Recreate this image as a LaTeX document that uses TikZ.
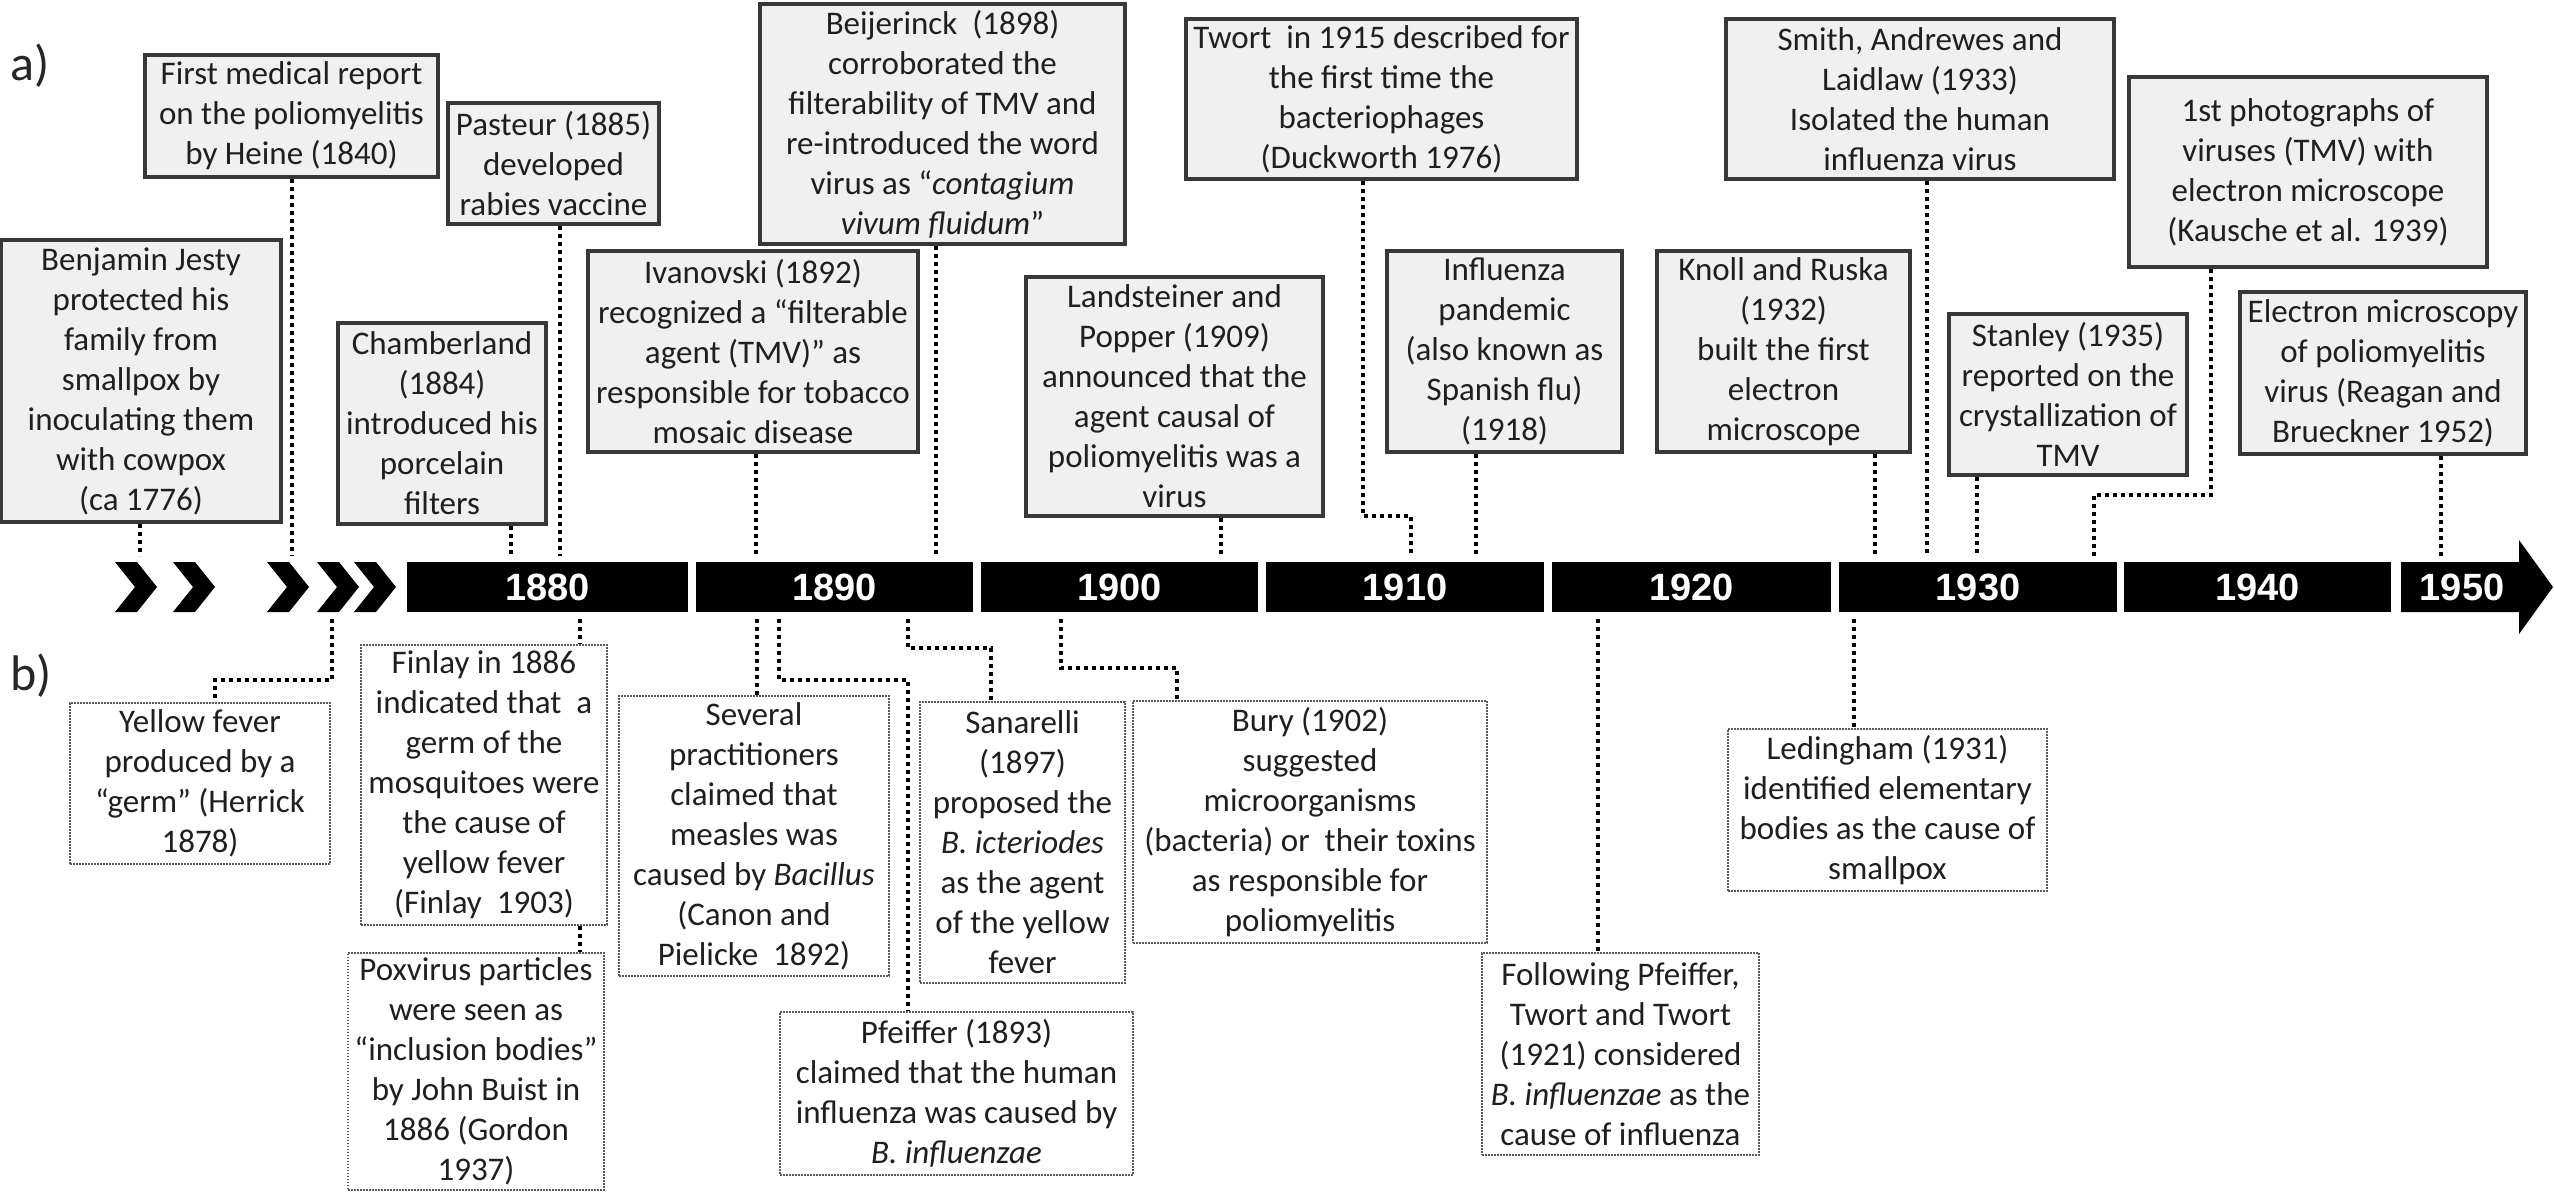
\documentclass[tikz,border=0pt]{standalone}
\usepackage{fontspec}
\setmainfont{Carlito}
\newfontfamily\yearfont{Liberation Sans}
\begin{document}
\begin{tikzpicture}[x=1pt,y=-1pt]
\tikzset{
 topbox/.style={draw=black!78, line width=4pt, fill=black!6, inner sep=0pt, align=center, text=black!88, font=\fontsize{33}{40}\selectfont},
 botbox/.style={draw=black!65, line width=2pt, dash pattern=on 1.6pt off 1.4pt, fill=white, inner sep=0pt, align=center, text=black!88, font=\fontsize{33}{40}\selectfont},
 conn/.style={draw=black, line width=4pt, dash pattern=on 4pt off 4pt},
 seg/.style={fill=black, draw=none, inner sep=0pt, minimum height=50pt, text=white, font=\yearfont\bfseries\fontsize{38}{40}\selectfont},
 yr/.style={text=white, inner sep=0pt, font=\yearfont\bfseries\fontsize{38}{40}\selectfont},
 chev/.style={fill=black},
 lbl/.style={font=\fontsize{50}{55}\selectfont, text=black!85, inner sep=0pt, anchor=base west}
}
\fill[white] (0,0) rectangle (2554,1192);
\useasboundingbox (0,0) rectangle (2554,1192);

% labels
\node[lbl] (la) at (10,80) {a)};
\node[lbl] (lb) at (10,690) {b)};

% timeline chevrons
\foreach \cx in {115,173,267,317,354}{
 \fill[chev] (\cx,562) -- ++(22,0) -- ++(20,25) -- ++(-20,25) -- ++(-22,0) -- ++(20,-25) -- cycle;
}
% segments
\node[seg, minimum width=281pt] (s1880) at (547.5,587) {1880};
\node[seg, minimum width=277pt] (s1890) at (834.5,587) {1890};
\node[seg, minimum width=277pt] (s1900) at (1119.5,587) {1900};
\node[seg, minimum width=278pt] (s1910) at (1405,587) {1910};
\node[seg, minimum width=279pt] (s1920) at (1691.5,587) {1920};
\node[seg, minimum width=278pt] (s1930) at (1978,587) {1930};
\node[seg, minimum width=267pt] (s1940) at (2257.5,587) {1940};
\fill[black] (2401,562) -- (2519,562) -- (2519,540) -- (2553,587) -- (2519,634) -- (2519,612) -- (2401,612) -- cycle;
\node[yr] (s1950) at (2462,587) {1950};

% top boxes
\node[topbox, minimum width=293pt, minimum height=122pt] (med) at (291.5,116) {First medical report\\on the poliomyelitis\\by Heine (1840)};
\node[topbox, minimum width=211pt, minimum height=121pt] (pasteur) at (553.5,163.5) {Pasteur (1885)\\developed\\rabies vaccine};
\node[topbox, minimum width=280pt, minimum height=282pt] (jesty) at (141,381) {Benjamin Jesty\\protected his\\family from\\smallpox by\\inoculating them\\with cowpox\\(ca 1776)};
\node[topbox, minimum width=208pt, minimum height=201pt] (chamb) at (442,423.5) {Chamberland\\(1884)\\introduced his\\porcelain\\filters};
\node[topbox, minimum width=330pt, minimum height=201pt] (ivan) at (753,351.5) {Ivanovski (1892)\\recognized a “filterable\\agent (TMV)” as\\responsible for tobacco\\mosaic disease};
\node[topbox, minimum width=365pt, minimum height=240pt] (beij) at (942.5,124) {Beijerinck\ \ (1898)\\corroborated the\\filterability of TMV and\\re-introduced the word\\virus as “\textit{contagium}\\\textit{vivum fluidum}”};
\node[topbox, minimum width=297pt, minimum height=239pt] (land) at (1174.5,396.5) {Landsteiner and\\Popper (1909)\\announced that the\\agent causal of\\poliomyelitis was a\\virus};
\node[topbox, minimum width=391pt, minimum height=160pt] (twort) at (1381.5,99) {Twort\ \ in 1915 described for\\the first time the\\bacteriophages\\(Duckworth 1976)};
\node[topbox, minimum width=235pt, minimum height=201pt] (infl) at (1504.5,351.5) {Influenza\\pandemic\\(also known as\\Spanish flu)\\(1918)};
\node[topbox, minimum width=253pt, minimum height=201pt] (knoll) at (1783.5,351.5) {Knoll and Ruska\\(1932)\\built the first\\electron\\microscope};
\node[topbox, minimum width=388pt, minimum height=160pt] (smith) at (1920,99) {Smith, Andrewes and\\Laidlaw (1933)\\Isolated the human\\influenza virus};
\node[topbox, minimum width=358pt, minimum height=190pt] (photo) at (2308,172) {1st photographs of\\viruses (TMV) with\\electron microscope\\(Kausche et al. 1939)};
\node[topbox, minimum width=238pt, minimum height=161pt] (stanley) at (2068,394.5) {Stanley (1935)\\reported on the\\crystallization of\\TMV};
\node[topbox, minimum width=286pt, minimum height=162pt] (em) at (2383,373) {Electron microscopy\\of poliomyelitis\\virus (Reagan and\\Brueckner 1952)};

% bottom boxes
\node[botbox, minimum width=260pt, minimum height=161pt] (yellow) at (200,783.5) {Yellow fever\\produced by a\\“germ” (Herrick\\1878)};
\node[botbox, minimum width=246pt, minimum height=280pt] (finlay) at (484,785) {Finlay in 1886\\indicated that\ \ a\\germ of the\\mosquitoes were\\the cause of\\yellow fever\\(Finlay\ \ 1903)};
\node[botbox, minimum width=256pt, minimum height=237pt] (pox) at (476,1071) {Poxvirus particles\\were seen as\\“inclusion bodies”\\by John Buist in\\1886 (Gordon\\1937)};
\node[botbox, minimum width=270pt, minimum height=280pt] (several) at (754,836) {Several\\practitioners\\claimed that\\measles was\\caused by \textit{Bacillus}\\(Canon and\\Pielicke\ \ 1892)};
\node[botbox, minimum width=353pt, minimum height=163pt] (pfeiffer) at (956.5,1093.5) {Pfeiffer (1893)\\claimed that the human\\influenza was caused by\\\textit{B. influenzae}};
\node[botbox, minimum width=205pt, minimum height=281pt] (sanarelli) at (1022.5,842.5) {Sanarelli\\(1897)\\proposed the\\\textit{B. icteriodes}\\as the agent\\of the yellow\\fever};
\node[botbox, minimum width=354pt, minimum height=242pt] (bury) at (1310,822) {Bury (1902)\\suggested\\microorganisms\\(bacteria) or\ \ their toxins\\as responsible for\\poliomyelitis};
\node[botbox, minimum width=277pt, minimum height=202pt] (following) at (1620.5,1054) {Following Pfeiffer,\\Twort and Twort\\(1921) considered\\\textit{B. influenzae} as the\\cause of influenza};
\node[botbox, minimum width=319pt, minimum height=162pt] (leding) at (1887.5,810) {Ledingham (1931)\\identified elementary\\bodies as the cause of\\smallpox};

% top connectors
\coordinate (a1) at (140,556);
\coordinate (a2) at (292,556);
\coordinate (a3) at (511,556);
\coordinate (a4) at (560,556);
\coordinate (a5) at (756,556);
\coordinate (a6) at (936,556);
\coordinate (a7) at (1221,556);
\coordinate (a8k) at (1363,516);
\coordinate (a8) at (1411,556);
\coordinate (a9) at (1476,556);
\coordinate (a10) at (1875,556);
\coordinate (a11) at (1927,556);
\coordinate (a12k) at (2211,495);
\coordinate (a12) at (2094,556);
\coordinate (a13) at (1977,556);
\coordinate (a14) at (2441,556);
\draw[conn] (jesty.south -| a1) -- (a1);
\draw[conn] (med.south -| a2) -- (a2);
\draw[conn] (chamb.south -| a3) -- (a3);
\draw[conn] (pasteur.south -| a4) -- (a4);
\draw[conn] (ivan.south -| a5) -- (a5);
\draw[conn] (beij.south -| a6) -- (a6);
\draw[conn] (land.south -| a7) -- (a7);
\draw[conn] (twort.south -| a8k) -- (a8k) -| (a8);
\draw[conn] (infl.south -| a9) -- (a9);
\draw[conn] (knoll.south -| a10) -- (a10);
\draw[conn] (smith.south -| a11) -- (a11);
\draw[conn] (photo.south -| a12k) -- (a12k) -| (a12);
\draw[conn] (stanley.south -| a13) -- (a13);
\draw[conn] (em.south -| a14) -- (a14);

% bottom connectors
\coordinate (b1) at (332,619);
\coordinate (b1k) at (215,680);
\coordinate (b2) at (580,619);
\coordinate (b4) at (757,619);
\coordinate (b5) at (779,619);
\coordinate (b5k) at (908,680);
\coordinate (b6) at (908,619);
\coordinate (b6k) at (991,648);
\coordinate (b7) at (1061,619);
\coordinate (b7k) at (1177,668);
\coordinate (b8) at (1598,619);
\coordinate (b9) at (1854,619);
\draw[conn] (b1) |- (b1k) -- (yellow.north -| b1k);
\draw[conn] (b2) -- (finlay.north -| b2);
\draw[conn] (finlay.south -| b2) -- (pox.north -| b2);
\draw[conn] (b4) -- (several.north -| b4);
\draw[conn] (b5) |- (b5k) -- (pfeiffer.north -| b5k);
\draw[conn] (b6) |- (b6k) -- (sanarelli.north -| b6k);
\draw[conn] (b7) |- (b7k) -- (bury.north -| b7k);
\draw[conn] (b8) -- (following.north -| b8);
\draw[conn] (b9) -- (leding.north -| b9);
\end{tikzpicture}
\end{document}
